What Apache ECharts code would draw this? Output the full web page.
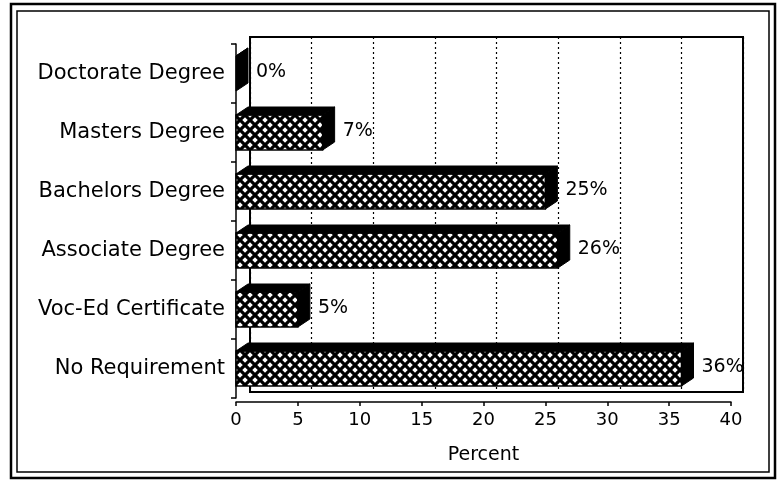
<!DOCTYPE html>
<html>
<head>
<meta charset="utf-8">
<script src="https://cdn.jsdelivr.net/npm/echarts@6/dist/echarts.min.js"></script>
<style>
html,body{margin:0;padding:0;background:#fff;}
#chart{width:777px;height:481px;}
</style>
</head>
<body>
<div id="chart"></div>
<script>
const categories = ['Doctorate Degree', 'Masters Degree', 'Bachelors Degree', 'Associate Degree', 'Voc-Ed Certificate', 'No Requirement'];
const percentValues = [0, 7, 25, 26, 5, 36];
const axisMin = 0;
const axisMax = 40;
const axisStep = 5;
const axisTitle = 'Percent';

function makeHatch() {
  const c = document.createElement('canvas');
  c.width = 10; c.height = 10;
  const g = c.getContext('2d');
  g.fillStyle = '#fff';
  g.fillRect(0, 0, 10, 10);
  g.strokeStyle = '#000';
  g.lineWidth = 3.2;
  g.beginPath();
  g.moveTo(-2, -2); g.lineTo(12, 12);
  g.moveTo(12, -2); g.lineTo(-2, 12);
  g.stroke();
  return c;
}
const hatch = makeHatch();

const FONT = 'DejaVu Sans';
const DEPTH_X = 12, DEPTH_Y = -8, FACE_H = 35;

function renderBar3D(params, api) {
  const v = api.value(0);
  const cat = api.value(1);
  const p0 = api.coord([0, cat]);
  const p1 = api.coord([v, cat]);
  const x0 = p0[0], x1 = p1[0], cy = p0[1];
  const yt = cy - FACE_H / 2, yb = cy + FACE_H / 2;
  const children = [
    {type: 'polygon', shape: {points: [[x0, yt], [x0 + DEPTH_X, yt + DEPTH_Y], [x1 + DEPTH_X, yt + DEPTH_Y], [x1, yt]]},
     style: {fill: '#000', stroke: '#000', lineWidth: 1}},
    {type: 'polygon', shape: {points: [[x1, yt], [x1 + DEPTH_X, yt + DEPTH_Y], [x1 + DEPTH_X, yb + DEPTH_Y], [x1, yb]]},
     style: {fill: '#000', stroke: '#000', lineWidth: 1}},
    {type: 'text', style: {text: v + '%', x: x1 + 20, y: cy - 1, verticalAlign: 'middle', align: 'left',
      fill: '#000', font: '19px "' + FONT + '"'}}
  ];
  if (x1 > x0) {
    children.unshift({type: 'rect', shape: {x: x0, y: yt, width: x1 - x0, height: FACE_H},
      style: {fill: {image: hatch, repeat: 'repeat'}, stroke: '#000', lineWidth: 1.5}});
  }
  return {type: 'group', children: children};
}

const chart = echarts.init(document.getElementById('chart'), null, {renderer: 'canvas'});

chart.setOption({
  backgroundColor: '#fff',
  animation: false,
  graphic: [
    {type: 'rect', shape: {x: 11, y: 4, width: 764, height: 474}, style: {fill: 'none', stroke: '#000', lineWidth: 2.5}, silent: true},
    {type: 'rect', shape: {x: 17, y: 11, width: 752, height: 461}, style: {fill: 'none', stroke: '#000', lineWidth: 1.5}, silent: true}
  ],
  grid: [
    {left: 236, right: 46, top: 44, bottom: 83, containLabel: false, z: 1},
    {left: 250, right: 34, top: 37, bottom: 89, containLabel: false, show: true, borderColor: '#000', borderWidth: 2, backgroundColor: 'transparent', z: 0}
  ],
  xAxis: [
    {
      type: 'value', gridIndex: 0, min: axisMin, max: axisMax, interval: axisStep,
      offset: 4,
      name: axisTitle, nameLocation: 'middle', nameGap: 44,
      nameTextStyle: {color: '#000', fontFamily: FONT, fontSize: 19},
      axisLine: {show: true, lineStyle: {color: '#000', width: 1.5}},
      axisTick: {show: true, length: 4, lineStyle: {color: '#000', width: 1.5}},
      axisLabel: {color: '#000', fontFamily: FONT, fontSize: 18, margin: 9},
      splitLine: {show: false}
    },
    {
      type: 'value', gridIndex: 1, min: axisMin, max: axisMax, interval: axisStep,
      axisLine: {show: false}, axisTick: {show: false}, axisLabel: {show: false},
      splitLine: {show: true, lineStyle: {color: '#000', type: [2, 3], width: 1.2}}
    }
  ],
  yAxis: [
    {
      type: 'category', gridIndex: 0, data: categories, inverse: true,
      axisLine: {show: true, lineStyle: {color: '#000', width: 1.5}},
      axisTick: {show: true, length: 5, lineStyle: {color: '#000', width: 1.5}},
      axisLabel: {color: '#000', fontFamily: FONT, fontSize: 21, margin: 11, padding: [6, 0, 0, 0]},
      splitLine: {show: false}
    },
    {
      type: 'category', gridIndex: 1, data: categories, inverse: true,
      axisLine: {show: false}, axisTick: {show: false}, axisLabel: {show: false}, splitLine: {show: false}
    }
  ],
  series: [
    {
      type: 'custom', xAxisIndex: 0, yAxisIndex: 0, z: 10,
      data: percentValues.map((v, i) => [v, i]),
      encode: {x: 0, y: 1},
      renderItem: renderBar3D
    }
  ]
});
</script>
</body>
</html>
